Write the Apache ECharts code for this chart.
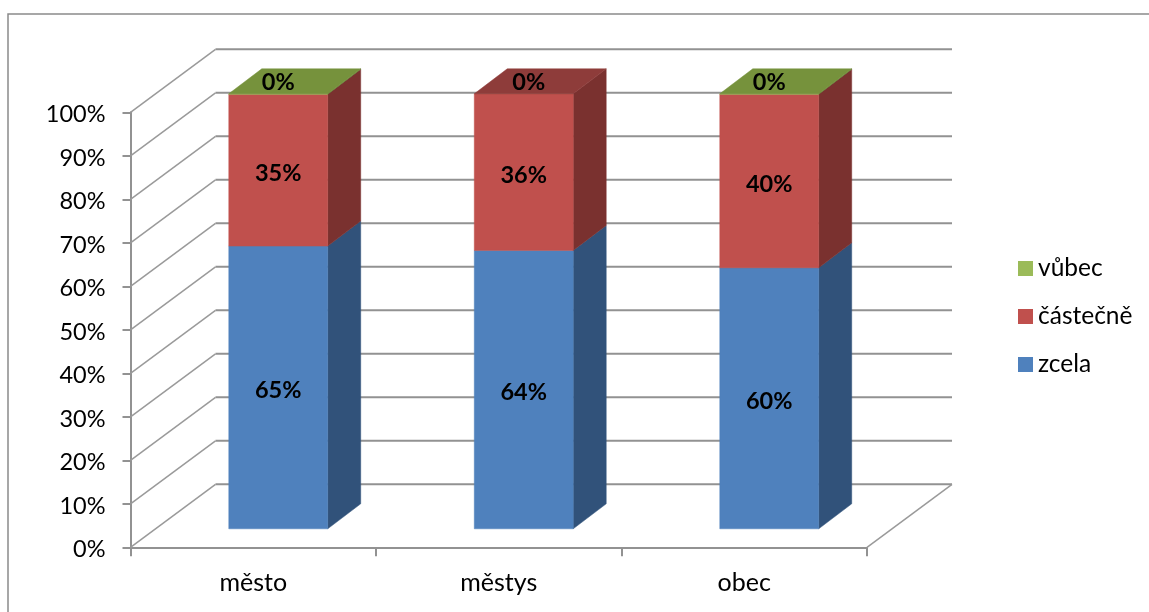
<!DOCTYPE html>
<html><head><meta charset="utf-8">
<style>html,body{margin:0;padding:0;background:#fff}#c{width:1149px;height:612px}</style>
<script src="https://cdn.jsdelivr.net/npm/echarts@6/dist/echarts.min.js"></script>
</head><body><div id="c"></div>
<script>
const categories = ['město', 'městys', 'obec'];
const zcela = [65, 64, 60];
const castecne = [34.9, 36, 39.9];
const vubec = [0.1, 0, 0.1];
const yTicks = [0, 10, 20, 30, 40, 50, 60, 70, 80, 90, 100];

const FONT = 'Lato';
const stacks = [
  { name: 'zcela', values: zcela, front: '#4F81BD', side: '#31527A', top: '#3F6797' },
  { name: 'částečně', values: castecne, front: '#C0504D', side: '#7A312F', top: '#8E3C3A' },
  { name: 'vůbec', values: vubec, front: '#9BBB59', side: '#647A3A', top: '#76923C' }
];
const WALL = [85, -63];
const BAR_SHIFT = [25, -18.5];
const BAR_DEPTH = [33, -25];
const GRID_COLOR = '#929292';

function poly(points, color) {
  return { type: 'polygon', shape: { points }, style: { fill: color, stroke: color, lineWidth: 0.5 } };
}
function barSeries(s, si) {
  const data = categories.map((c, i) => {
    let base = 0;
    for (let k = 0; k < si; k++) base += stacks[k].values[i];
    return [i, base, base + s.values[i], s.values[i]];
  });
  return {
    type: 'custom', name: s.name, z: 5 + si, silent: true,
    itemStyle: { color: s.front },
    encode: { x: 0, y: 2 },
    data,
    renderItem(params, api) {
      const i = api.value(0), lo = api.value(1), hi = api.value(2), v = api.value(3);
      const isTop = v > 0 && !stacks.slice(si + 1).some(o => o.values[i] > 0);
      const pLo = api.coord([i, lo]), pHi = api.coord([i, hi]);
      const w = api.size([1, 0])[0] * 0.403;
      const x0 = pLo[0] - w / 2 + BAR_SHIFT[0], x1 = x0 + w;
      const y0 = pLo[1] + BAR_SHIFT[1], y1 = pHi[1] + BAR_SHIFT[1];
      const [dx, dy] = BAR_DEPTH;
      const children = [];
      if (v > 0) {
        children.push(poly([[x1, y0], [x1 + dx, y0 + dy], [x1 + dx, y1 + dy], [x1, y1]], s.side));
        children.push(poly([[x0, y0], [x1, y0], [x1, y1], [x0, y1]], s.front));
        if (isTop) children.push(poly([[x0, y1], [x1, y1], [x1 + dx, y1 + dy], [x0 + dx, y1 + dy]], s.top));
      }
      const rounded = Math.round(v);
      const onTop = rounded === 0;
      children.push({
        type: 'text',
        style: {
          text: rounded + '%', font: 'bold 23.5px ' + FONT, fill: '#000',
          x: (x0 + x1) / 2 + (onTop && i === 1 ? 5 : 0),
          y: onTop ? y1 - 11.5 : (y0 + y1) / 2 + 3,
          align: 'center', verticalAlign: 'middle'
        },
        z2: 20
      });
      return { type: 'group', children };
    }
  };
}
const wallSeries = {
  type: 'custom', silent: true, z: 1,
  encode: { y: 0 },
  data: yTicks.map(v => [v]),
  renderItem(params, api) {
    const c = params.coordSys;
    const y = api.coord([0, api.value(0)])[1];
    const x = c.x;
    const line = (pts, w, col) => ({ type: 'polyline', shape: { points: pts }, style: { stroke: col, lineWidth: w, fill: 'none' } });
    const children = [
      line([[x, y], [x + WALL[0], y + WALL[1]]], 1.5, '#9A9A9A'),
      line([[x + WALL[0], y + WALL[1]], [x + c.width + WALL[0], y + WALL[1]]], 2, GRID_COLOR)
    ];
    if (api.value(0) === 0) {
      children.push(line([[x + c.width, y], [x + c.width + WALL[0], y + WALL[1]]], 1.5, '#9A9A9A'));
    }
    return { type: 'group', children };
  }
};
const chart = echarts.init(document.getElementById('c'), null, { renderer: 'canvas' });
chart.setOption({
  animation: false,
  backgroundColor: '#fff',
  grid: { left: 130.5, right: 282, top: 112.3, bottom: 64.7, containLabel: false },
  graphic: [{
    type: 'polyline', silent: true,
    shape: { points: [[8, 612], [8, 14], [1149, 14]] },
    style: { stroke: '#8A8A8A', lineWidth: 1.5, fill: 'none' }
  }],
  legend: {
    orient: 'vertical', left: 1013, top: 251, itemWidth: 15, itemHeight: 15, itemGap: 23,
    selectedMode: false, icon: 'rect',
    data: ['vůbec', 'částečně', 'zcela'],
    textStyle: { fontFamily: FONT, fontSize: 24.5, color: '#000' }
  },
  xAxis: {
    type: 'category', data: categories, boundaryGap: true,
    axisLine: { lineStyle: { color: GRID_COLOR, width: 2 } },
    axisTick: { show: true, length: 9, alignWithLabel: false, lineStyle: { color: GRID_COLOR, width: 2 } },
    axisLabel: { fontFamily: FONT, fontSize: 25, color: '#000', margin: 23 },
    splitLine: { show: false }
  },
  yAxis: {
    type: 'value', min: 0, max: 100, interval: 10,
    axisLine: { show: true, lineStyle: { color: GRID_COLOR, width: 2 } },
    axisTick: { show: true, length: 8, lineStyle: { color: GRID_COLOR, width: 2 } },
    axisLabel: {
      margin: 25,
      formatter: v => '{a|' + v + '%}',
      rich: { a: { fontFamily: FONT, fontSize: 23.5, color: '#000', padding: [5, 0, 0, 0] } }
    },
    splitLine: { show: false }
  },
  series: [wallSeries, ...stacks.map(barSeries)]
});
</script></body></html>
